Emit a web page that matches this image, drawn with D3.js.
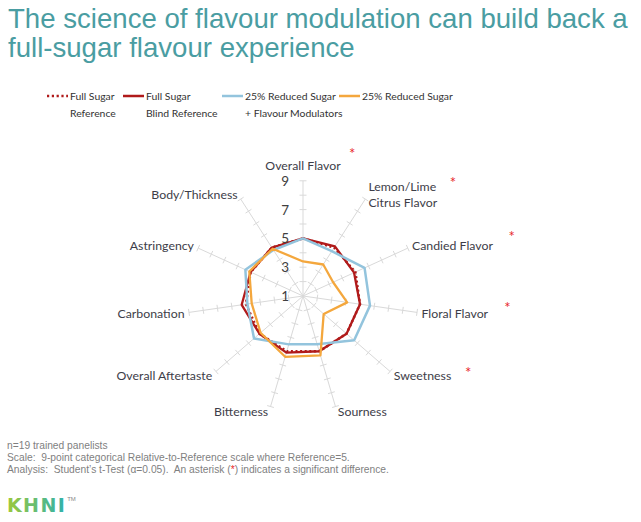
<!DOCTYPE html>
<html>
<head>
<meta charset="utf-8">
<script src="https://cdn.jsdelivr.net/npm/d3@7"></script>
<style>
  html, body { margin: 0; padding: 0; background: #ffffff; }
  svg { display: block; }
  text { white-space: pre; }
</style>
</head>
<body>
<svg id="chart" width="641" height="522"></svg>
<script>
// ---------- DATA ----------
const categories = [
  "Overall Flavor",
  "Lemon/Lime|Citrus Flavor",
  "Candied Flavor",
  "Floral Flavor",
  "Sweetness",
  "Sourness",
  "Bitterness",
  "Overall Aftertaste",
  "Carbonation",
  "Astringency",
  "Body/Thickness"
];
const significant = [true, true, true, true, true, false, false, false, false, false, false];

const fullSugarReference = [5.0, 5.0, 5.0, 5.0, 5.0, 5.0, 5.0, 5.0, 5.0, 5.0, 5.0];
const fullSugarBlindReference = [5.0, 5.1, 4.9, 5.0, 5.0, 5.0, 5.1, 5.0, 5.3, 5.0, 5.0];
const reducedSugarModulators = [5.0, 4.7, 5.7, 5.7, 5.7, 4.5, 4.5, 5.5, 4.9, 5.4, 4.8];
const reducedSugar = [3.4, 3.6, 3.3, 4.1, 2.9, 5.3, 5.4, 4.9, 4.6, 5.1, 4.9];

const seriesNames = ["Full Sugar|Reference", "Full Sugar|Blind Reference", "25% Reduced Sugar|+ Flavour Modulators", "25% Reduced Sugar"];
const tickValues = [1, 3, 5, 7, 9];
const scaleMin = 1, scaleMax = 9;

const titleLines = ["The science of flavour modulation can build back a", "full-sugar flavour experience"];
const footnotes = [
  "n=19 trained panelists",
  "Scale:  9-point categorical Relative-to-Reference scale where Reference=5.",
  "Analysis:  Student\u2019s t-Test (\u03b1=0.05).  An asterisk (|*|) indicates a significant difference."
];

// ---------- STYLE ----------
const seriesStyles = [
  { color: "#b01a1a", width: 2.5, dash: "2,2.6" },
  { color: "#b01a1a", width: 2.3, dash: null },
  { color: "#93c4dd", width: 2.5, dash: null },
  { color: "#f4a73d", width: 2.3, dash: null }
];
const seriesData = [fullSugarReference, fullSugarBlindReference, reducedSugarModulators, reducedSugar];

const svg = d3.select("#chart");
const cx = 303, cy = 296, R = 115.2;
const n = categories.length;
const r = d3.scaleLinear().domain([scaleMin, scaleMax]).range([0, R]);
const ang = d3.scaleLinear().domain([0, n]).range([0, 2 * Math.PI]);

// Title
svg.append("g").selectAll("text").data(titleLines).join("text")
  .attr("x", 8).attr("y", (d, i) => 28 + i * 29)
  .attr("font-family", "Liberation Sans, Arial, sans-serif")
  .attr("font-size", 27.6)
  .attr("fill", "#4a9da2")
  .text(d => d);

// Legend
const legendX = [47, 123, 222, 339];
const lg = svg.append("g").attr("font-family", "Lato, sans-serif").attr("font-size", 10.4).attr("fill", "#333333");
seriesNames.forEach((name, i) => {
  const st = seriesStyles[i];
  lg.append("line")
    .attr("x1", legendX[i]).attr("x2", legendX[i] + 21)
    .attr("y1", 96).attr("y2", 96)
    .attr("stroke", st.color).attr("stroke-width", 2.5)
    .attr("stroke-dasharray", st.dash ? "2.2,2.6" : null);
  name.split("|").forEach((ln, j) => {
    lg.append("text").attr("x", legendX[i] + 23).attr("y", 96 + j * 16.5)
      .attr("dominant-baseline", "central").text(ln);
  });
});

// Radar
const g = svg.append("g").attr("transform", `translate(${cx},${cy})`);
const gridColor = "#d9d9d9";
const axes = g.append("g");
d3.range(n).forEach(i => {
  const a = ang(i);
  const s = Math.sin(a), c = -Math.cos(a);
  axes.append("line").attr("x1", 0).attr("y1", 0)
    .attr("x2", r(scaleMax) * s).attr("y2", r(scaleMax) * c)
    .attr("stroke", gridColor).attr("stroke-width", 1);
  d3.range(scaleMin + 1, scaleMax + 1).forEach(v => {
    const px = r(v) * s, py = r(v) * c;
    const tx = -c * 3.5, ty = s * 3.5;
    axes.append("line")
      .attr("x1", px - tx).attr("y1", py - ty)
      .attr("x2", px + tx).attr("y2", py + ty)
      .attr("stroke", gridColor).attr("stroke-width", 1);
  });
});

// series
const radial = d3.lineRadial()
  .angle((d, i) => ang(i))
  .radius(d => r(d))
  .curve(d3.curveLinearClosed);
seriesData.forEach((vals, i) => {
  const st = seriesStyles[i];
  g.append("path").datum(vals)
    .attr("d", radial)
    .attr("fill", "none")
    .attr("stroke", st.color)
    .attr("stroke-width", st.width)
    .attr("stroke-linejoin", "round")
    .attr("stroke-dasharray", st.dash);
});

// tick labels
g.append("g").selectAll("text").data(tickValues).join("text")
  .attr("x", -14).attr("y", d => -r(d))
  .attr("text-anchor", "end").attr("dominant-baseline", "central")
  .attr("font-family", "Lato, sans-serif").attr("font-size", 13.5)
  .attr("fill", "#404040")
  .text(d => d);

// category labels
const labG = svg.append("g").attr("font-family", "Lato, sans-serif").attr("font-size", 12.3).attr("fill", "#3d3d48");
categories.forEach((cat, i) => {
  const a = ang(i);
  const s = Math.sin(a), c = Math.cos(a);
  const ex = cx + r(scaleMax) * s, ey = cy - r(scaleMax) * c;
  let anchor, x, y;
  if (Math.abs(s) < 0.1) { anchor = "middle"; x = ex; y = ey - 15; }
  else if (s > 0) { anchor = "start"; x = ex + 1.5 + 3 * s; y = ey - c * 5.5; }
  else { anchor = "end"; x = ex - 1.5 + 3 * s; y = ey - c * 5.5; }
  const lines = cat.split("|");
  const t = labG.append("text").attr("text-anchor", anchor);
  lines.forEach((ln, j) => {
    t.append("tspan").attr("x", x)
      .attr("y", y + (j - (lines.length - 1) / 2) * 15.6)
      .attr("dominant-baseline", "central").text(ln);
  });
  if (significant[i]) {
    const bb = t.node().getBBox();
    const fs = 15;
    const acx = bb.x + bb.width + 11 + 8 * Math.abs(s);
    const acy = y - 10 - 6 * c;
    labG.append("text")
      .attr("x", acx)
      .attr("y", acy + 0.58 * fs)
      .attr("font-size", fs).attr("fill", "#e8262a")
      .attr("text-anchor", "middle")
      .text("*");
  }
});

// footnotes
const fg = svg.append("g").attr("font-family", "Liberation Sans, Arial, sans-serif").attr("font-size", 10.25).attr("fill", "#7f7f7f");
const footY = [448.5, 460.8, 473.2];
footnotes.forEach((f, i) => {
  const t = fg.append("text").attr("x", 7).attr("y", footY[i]);
  f.split("|").forEach((part, j) => {
    t.append("tspan").attr("fill", j === 1 ? "#e8262a" : null).text(part);
  });
});

// logo
const defs = svg.append("defs");
const grad = defs.append("linearGradient").attr("id", "logoGrad").attr("x1", "0%").attr("x2", "100%");
grad.append("stop").attr("offset", "0%").attr("stop-color", "#9cc83b");
grad.append("stop").attr("offset", "100%").attr("stop-color", "#2fb1ad");
const logo = svg.append("text").attr("x", 7).attr("y", 512)
  .attr("font-family", "DejaVu Sans, sans-serif").attr("font-weight", "bold")
  .attr("font-size", 19).attr("letter-spacing", 1.4)
  .attr("fill", "url(#logoGrad)").text("KHNI");
const lb = logo.node().getBBox();
svg.append("text").attr("x", lb.x + lb.width + 1).attr("y", 501)
  .attr("font-family", "Liberation Sans, Arial, sans-serif")
  .attr("font-size", 6).attr("fill", "#888").text("TM");
</script>
</body>
</html>
